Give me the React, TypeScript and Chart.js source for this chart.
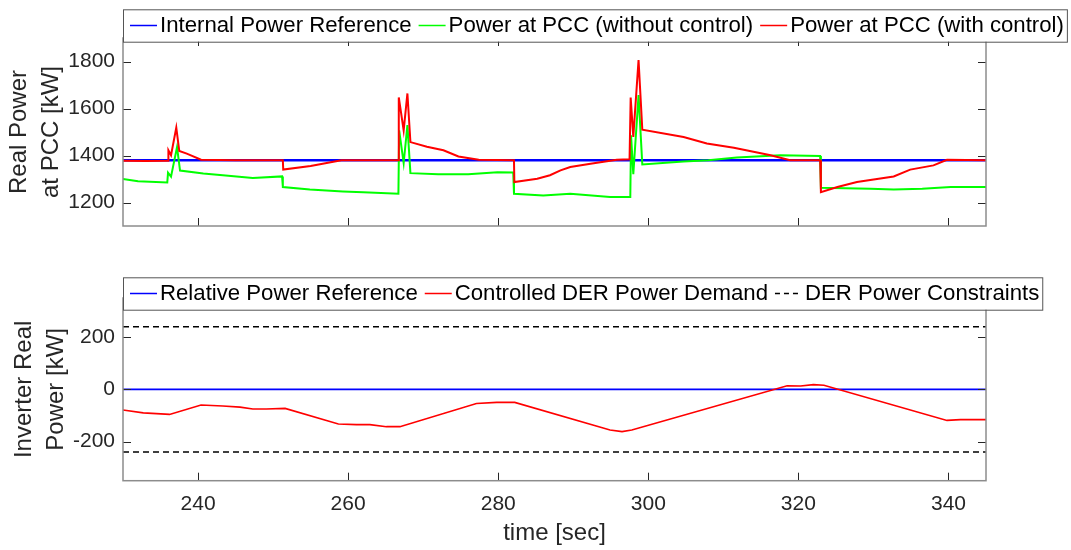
import React, { useEffect, useRef } from "react";
import { Chart, registerables } from "chart.js";

Chart.register(...registerables);

const FONT = '"Liberation Sans", Arial, Helvetica, sans-serif';

// ---- axes ----
const timeRange = [230, 345];
const xTicks = [240, 260, 280, 300, 320, 340];
const topYRange = [1100, 1900];
const topYTicks = [1200, 1400, 1600, 1800];
const bottomYRange = [-350, 350];
const bottomYTicks = [-200, 0, 200];

// ---- top plot data ----
const refTime = [230, 345];
const internalPowerRef = [1380, 1380];

const noCtrlTime = [
  230, 232, 235.9, 236.0, 236.4, 237.2, 237.6, 240.7, 243.3, 247.3, 251.2, 251.3,
  254.9, 259.3, 262, 266.7, 266.8, 267.4, 267.9, 268.3, 272, 276, 279.9, 282.0,
  282.1, 286.0, 289.6, 294.9, 297.6, 297.7, 298.0, 298.7, 299.2, 304.7, 308, 311.8,
  317.6, 322.9, 323.0, 329.6, 332.7, 336.5, 340.3, 345,
];
const pccNoCtrl = [
  1300, 1290, 1285, 1327, 1310, 1436, 1336, 1323, 1316, 1304, 1311, 1266,
  1255, 1247, 1244, 1237, 1507, 1368, 1529, 1325, 1320, 1320, 1329, 1328,
  1237, 1230, 1237, 1223, 1223, 1486, 1320, 1657, 1362, 1374, 1380, 1391,
  1401, 1398, 1263, 1259, 1255, 1259, 1266, 1266,
];

const ctrlTime = [
  230, 233, 236.0, 236.05, 236.4, 237.1, 237.5, 238.5, 240.4, 245, 251.3, 251.35,
  255, 259.1, 266.7, 266.75, 267.4, 267.9, 268.3, 270.5, 272.7, 274.7, 277.4, 282.1,
  282.15, 285.2, 286.9, 288.3, 289.6, 292.3, 295.8, 297.5, 297.65, 298.0, 298.7, 299.2,
  304.7, 307.8, 311.4, 316.3, 318.9, 322.9, 323.0, 325.2, 327.8, 332.7, 334.9, 338.0,
  339.8, 345,
];
const pccCtrl = [
  1378, 1377, 1378, 1422, 1401, 1519, 1419, 1408, 1382, 1380, 1380, 1340,
  1355, 1380, 1380, 1647, 1507, 1664, 1457, 1437, 1422, 1396, 1382, 1380,
  1287, 1301, 1316, 1337, 1351, 1365, 1382, 1384, 1647, 1479, 1806, 1510,
  1479, 1451, 1433, 1401, 1380, 1380, 1244, 1266, 1287, 1311, 1340, 1358,
  1382, 1380,
];

// ---- bottom plot data ----
const relativePowerRef = [0, 0];
const constraintTime = [230, 345];
const upperConstraint = [240, 240];
const lowerConstraint = [-240, -240];

const derTime = [
  230, 232.7, 236.2, 240.4, 243.3, 245.6, 247.3, 249.1, 251.6, 258.7, 261.1, 262.9,
  265.1, 266.9, 277.1, 279.8, 282.2, 294.9, 296.5, 297.8, 318.5, 320.3, 322.0, 323.4,
  339.8, 341.6, 345,
];
const derDemand = [
  -79, -90, -96, -60, -64, -68, -75, -75, -73, -133, -135, -135,
  -143, -143, -54, -50, -50, -156, -162, -156, 14, 13, 18, 16,
  -119, -116, -116,
];

const pts = (t: number[], v: number[]) => t.map((x, i) => ({ x, y: v[i] }));

const boxPlugin = {
  id: "mbox",
  afterDatasetsDraw(chart: any) {
    const { ctx, chartArea: a, scales } = chart;
    const tl = 8;
    ctx.save();
    ctx.strokeStyle = "#262626";
    ctx.lineWidth = 1;
    ctx.beginPath();
    for (const t of scales.x.ticks) {
      const px = Math.round(scales.x.getPixelForValue(t.value)) + 0.5;
      ctx.moveTo(px, a.bottom);
      ctx.lineTo(px, a.bottom - tl);
      ctx.moveTo(px, a.top);
      ctx.lineTo(px, a.top + tl);
    }
    for (const t of scales.y.ticks) {
      const py = Math.round(scales.y.getPixelForValue(t.value)) + 0.5;
      ctx.moveTo(a.left, py);
      ctx.lineTo(a.left + tl, py);
      ctx.moveTo(a.right, py);
      ctx.lineTo(a.right - tl, py);
    }
    ctx.stroke();
    ctx.strokeStyle = "#8c8c8c";
    ctx.lineWidth = 1.5;
    ctx.strokeRect(a.left, a.top, a.right - a.left, a.bottom - a.top);
    ctx.restore();
  },
};

type LegendItem = { label: string; color: string; dash: number[] };

const makeLegend = (items: LegendItem[], top: number) => ({
  id: "mlegend",
  afterDraw(chart: any) {
    const { ctx, chartArea: a } = chart;
    const padL = 7, padR = 3, lineLen = 27, gap = 3, itemGap = 7, h = 32.4;
    ctx.save();
    ctx.font = `22.2px ${FONT}`;
    const widths = items.map((it) => ctx.measureText(it.label).width);
    let total = padL + padR + itemGap * (items.length - 1);
    widths.forEach((w) => (total += lineLen + gap + w));
    const left = a.left;
    ctx.fillStyle = "#ffffff";
    ctx.fillRect(left, top, total, h);
    ctx.strokeStyle = "#555555";
    ctx.lineWidth = 1;
    ctx.strokeRect(left + 0.5, top + 0.5, total, h);
    const cy = top + h / 2;
    let x = left + padL;
    items.forEach((it, i) => {
      ctx.strokeStyle = it.color;
      ctx.lineWidth = 1.5;
      ctx.setLineDash(it.dash);
      ctx.beginPath();
      ctx.moveTo(x, cy);
      ctx.lineTo(x + lineLen, cy);
      ctx.stroke();
      ctx.setLineDash([]);
      ctx.fillStyle = "#000000";
      ctx.textAlign = "left";
      ctx.textBaseline = "middle";
      ctx.fillText(it.label, x + lineLen + gap, cy);
      x += lineLen + gap + widths[i] + itemGap;
    });
    ctx.restore();
  },
});

const fixedTicks = (vals: number[]) => (s: any) => {
  s.ticks = vals.map((v) => ({ value: v }));
};
const plain = (v: any) => String(v);

function TopChart() {
  const ref = useRef<HTMLCanvasElement>(null);
  useEffect(() => {
    const chart = new Chart(ref.current!, {
      type: "line",
      data: {
        datasets: [
          { label: "Internal Power Reference", data: pts(refTime, internalPowerRef), borderColor: "#0000ff", borderWidth: 2.5, order: 2 },
          { label: "Power at PCC (without control)", data: pts(noCtrlTime, pccNoCtrl), borderColor: "#00ff00", borderWidth: 2, order: 1 },
          { label: "Power at PCC (with control)", data: pts(ctrlTime, pccCtrl), borderColor: "#ff0000", borderWidth: 2, order: 0 },
        ],
      },
      options: {
        responsive: false,
        animation: false,
        devicePixelRatio: 1,
        elements: { point: { radius: 0 }, line: { tension: 0 } },
        layout: { padding: { left: 0, right: 85, top: 38, bottom: 0 } },
        plugins: { legend: { display: false }, tooltip: { enabled: false } },
        scales: {
          x: {
            type: "linear",
            min: timeRange[0],
            max: timeRange[1],
            afterBuildTicks: fixedTicks(xTicks),
            ticks: { display: false },
            grid: { display: false, drawTicks: false },
            border: { display: false },
            afterFit: (s: any) => { s.height = 24; },
          },
          y: {
            type: "linear",
            min: topYRange[0],
            max: topYRange[1],
            afterBuildTicks: fixedTicks(topYTicks),
            ticks: { font: { family: FONT, size: 21 }, color: "#262626", padding: 8, callback: plain },
            grid: { display: false, drawTicks: false },
            border: { display: false },
            title: {
              display: true,
              text: ["Real Power", "at PCC [kW]"],
              font: { family: FONT, size: 24, lineHeight: 32 / 24 },
              color: "#262626",
              padding: { top: 3, bottom: 0 },
            },
            afterFit: (s: any) => { s.width = 123; },
          },
        },
      } as any,
      plugins: [
        boxPlugin,
        makeLegend(
          [
            { label: "Internal Power Reference", color: "#0000ff", dash: [] },
            { label: "Power at PCC (without control)", color: "#00ff00", dash: [] },
            { label: "Power at PCC (with control)", color: "#ff0000", dash: [] },
          ],
          9.3
        ),
      ],
    });
    return () => chart.destroy();
  }, []);
  return <canvas ref={ref} width={1071} height={250} style={{ position: "absolute", left: 0, top: 0 }} />;
}

function BottomChart() {
  const ref = useRef<HTMLCanvasElement>(null);
  useEffect(() => {
    const chart = new Chart(ref.current!, {
      type: "line",
      data: {
        datasets: [
          { label: "Relative Power Reference", data: pts(refTime, relativePowerRef), borderColor: "#0000ff", borderWidth: 1.8, order: 3 },
          { label: "Controlled DER Power Demand", data: pts(derTime, derDemand), borderColor: "#ff0000", borderWidth: 1.6, order: 2 },
          { label: "DER Power Constraints", data: pts(constraintTime, upperConstraint), borderColor: "#000000", borderWidth: 1.5, borderDash: [6, 4], order: 1 },
          { label: "DER Power Constraints (lower)", data: pts(constraintTime, lowerConstraint), borderColor: "#000000", borderWidth: 1.5, borderDash: [6, 4], order: 0 },
        ],
      },
      options: {
        responsive: false,
        animation: false,
        devicePixelRatio: 1,
        elements: { point: { radius: 0 }, line: { tension: 0 } },
        layout: { padding: { left: 0, right: 85, top: 38, bottom: 0 } },
        plugins: { legend: { display: false }, tooltip: { enabled: false } },
        scales: {
          x: {
            type: "linear",
            min: timeRange[0],
            max: timeRange[1],
            afterBuildTicks: fixedTicks(xTicks),
            ticks: { font: { family: FONT, size: 21 }, color: "#262626", padding: 11, maxRotation: 0, callback: plain },
            grid: { display: false, drawTicks: false },
            border: { display: false },
            title: {
              display: true,
              text: "time [sec]",
              font: { family: FONT, size: 24 },
              color: "#262626",
              padding: { top: 0, bottom: 2 },
            },
            afterFit: (s: any) => { s.height = 69.3; },
          },
          y: {
            type: "linear",
            min: bottomYRange[0],
            max: bottomYRange[1],
            afterBuildTicks: fixedTicks(bottomYTicks),
            ticks: { font: { family: FONT, size: 21 }, color: "#262626", padding: 8, callback: plain },
            grid: { display: false, drawTicks: false },
            border: { display: false },
            title: {
              display: true,
              text: ["Inverter Real", "Power [kW]"],
              font: { family: FONT, size: 24, lineHeight: 32 / 24 },
              color: "#262626",
              padding: { top: 8, bottom: 0 },
            },
            afterFit: (s: any) => { s.width = 123; },
          },
        },
      } as any,
      plugins: [
        boxPlugin,
        makeLegend(
          [
            { label: "Relative Power Reference", color: "#0000ff", dash: [] },
            { label: "Controlled DER Power Demand", color: "#ff0000", dash: [] },
            { label: "DER Power Constraints", color: "#000000", dash: [5, 4] },
          ],
          17.3
        ),
      ],
    });
    return () => chart.destroy();
  }, []);
  return <canvas ref={ref} width={1071} height={290} style={{ position: "absolute", left: 0, top: 260 }} />;
}

export default function App() {
  return (
    <div style={{ position: "absolute", left: 0, top: 0, width: 1071, height: 550, background: "#ffffff" }}>
      <TopChart />
      <BottomChart />
    </div>
  );
}
